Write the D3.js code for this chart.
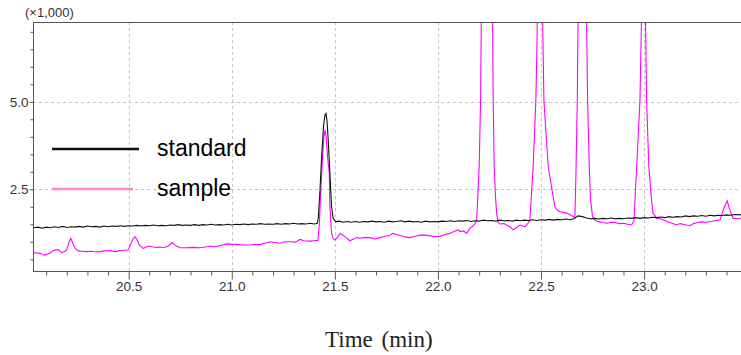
<!DOCTYPE html>
<html>
<head>
<meta charset="utf-8">
<script src="https://cdn.jsdelivr.net/npm/d3@7"></script>
<style>
  html, body { margin: 0; padding: 0; background: #fff; }
  svg { display: block; }
</style>
</head>
<body>
<svg id="chart" width="741" height="355"></svg>
<script>
// Chromatogram traces: [retention time (min), signal (×1,000)]
const standardSignal = [
  [20.036,1.40],[20.06,1.42],[20.08,1.39],[20.10,1.42],[20.12,1.40],[20.14,1.43],[20.16,1.41],
  [20.18,1.44],[20.20,1.41],[20.22,1.43],[20.24,1.42],[20.26,1.44],[20.28,1.42],[20.30,1.45],
  [20.32,1.43],[20.34,1.44],[20.36,1.42],[20.38,1.45],[20.40,1.43],[20.42,1.45],[20.44,1.44],
  [20.46,1.46],[20.48,1.44],[20.50,1.46],[20.52,1.45],[20.54,1.47],[20.56,1.45],[20.58,1.47],
  [20.60,1.46],[20.62,1.48],[20.64,1.46],[20.66,1.47],[20.68,1.46],[20.70,1.48],[20.72,1.47],
  [20.74,1.49],[20.76,1.47],[20.78,1.48],[20.80,1.47],[20.82,1.49],[20.84,1.47],[20.86,1.49],
  [20.88,1.48],[20.90,1.50],[20.92,1.48],[20.94,1.49],[20.96,1.48],[20.98,1.50],[21.00,1.48],
  [21.02,1.50],[21.04,1.49],[21.06,1.51],[21.08,1.49],[21.10,1.51],[21.12,1.50],[21.14,1.52],
  [21.16,1.50],[21.18,1.51],[21.20,1.50],[21.22,1.52],[21.24,1.50],[21.26,1.52],[21.28,1.51],
  [21.30,1.53],[21.32,1.51],[21.34,1.52],[21.36,1.51],[21.38,1.53],[21.40,1.51],[21.415,1.53],
  [21.42,1.70],[21.428,2.48],[21.436,3.43],[21.445,4.30],[21.452,4.62],[21.457,4.67],[21.462,4.45],
  [21.468,3.90],[21.476,2.97],[21.484,2.00],[21.492,1.67],[21.505,1.57],[21.52,1.59],[21.54,1.56],
  [21.56,1.58],[21.58,1.56],[21.60,1.58],[21.62,1.56],[21.64,1.58],[21.66,1.57],[21.68,1.59],
  [21.70,1.57],[21.72,1.58],[21.74,1.56],[21.76,1.59],[21.78,1.57],[21.80,1.58],[21.82,1.60],
  [21.84,1.57],[21.86,1.59],[21.88,1.57],[21.90,1.58],[21.92,1.56],[21.94,1.59],[21.96,1.57],
  [21.98,1.58],[22.00,1.57],[22.02,1.59],[22.04,1.58],[22.06,1.60],[22.08,1.58],[22.10,1.60],
  [22.12,1.59],[22.14,1.61],[22.16,1.58],[22.18,1.60],[22.20,1.59],[22.22,1.62],[22.24,1.60],
  [22.26,1.61],[22.28,1.59],[22.30,1.62],[22.32,1.60],[22.34,1.61],[22.36,1.59],[22.38,1.62],
  [22.40,1.60],[22.42,1.62],[22.44,1.61],[22.46,1.63],[22.48,1.61],[22.50,1.63],[22.52,1.62],
  [22.54,1.64],[22.56,1.62],[22.58,1.64],[22.60,1.63],[22.62,1.65],[22.64,1.63],[22.66,1.66],
  [22.68,1.74],[22.70,1.72],[22.72,1.68],[22.74,1.66],[22.76,1.67],[22.78,1.65],[22.80,1.67],
  [22.82,1.66],[22.84,1.68],[22.86,1.66],[22.88,1.67],[22.90,1.66],[22.92,1.68],[22.94,1.67],
  [22.96,1.69],[22.98,1.67],[23.00,1.69],[23.02,1.68],[23.04,1.70],[23.06,1.69],[23.08,1.71],
  [23.10,1.69],[23.12,1.72],[23.14,1.70],[23.16,1.72],[23.18,1.71],[23.20,1.74],[23.22,1.72],
  [23.24,1.74],[23.26,1.73],[23.28,1.75],[23.30,1.73],[23.32,1.76],[23.34,1.74],[23.36,1.76],
  [23.38,1.75],[23.40,1.77],[23.42,1.76],[23.44,1.78],[23.47,1.77]
];

const sampleSignal = [
  [20.036,0.69],[20.055,0.68],[20.070,0.67],[20.082,0.64],[20.094,0.62],[20.106,0.65],[20.118,0.67],
  [20.134,0.75],[20.146,0.77],[20.159,0.77],[20.175,0.69],[20.190,0.72],[20.199,0.77],[20.210,0.98],
  [20.219,1.10],[20.230,0.95],[20.240,0.81],[20.256,0.74],[20.276,0.73],[20.296,0.72],[20.32,0.73],
  [20.34,0.71],[20.361,0.72],[20.385,0.74],[20.410,0.75],[20.434,0.72],[20.45,0.74],[20.466,0.75],
  [20.498,0.77],[20.515,1.00],[20.523,1.10],[20.531,1.15],[20.541,1.05],[20.551,0.91],[20.571,0.81],
  [20.587,0.86],[20.603,0.88],[20.62,0.85],[20.636,0.84],[20.652,0.85],[20.668,0.83],[20.692,0.88],
  [20.702,0.93],[20.711,0.98],[20.722,0.92],[20.733,0.88],[20.749,0.83],[20.781,0.83],[20.81,0.84],
  [20.846,0.83],[20.878,0.86],[20.894,0.88],[20.91,0.86],[20.927,0.87],[20.95,0.90],[20.975,0.94],
  [21.007,0.93],[21.03,0.92],[21.056,0.91],[21.088,0.91],[21.11,0.92],[21.137,0.92],[21.16,0.96],
  [21.186,1.00],[21.21,0.98],[21.234,0.96],[21.26,1.00],[21.283,1.00],[21.31,0.99],[21.331,1.07],
  [21.35,1.03],[21.379,1.02],[21.40,1.03],[21.418,1.04],[21.425,1.53],[21.432,2.48],[21.440,3.40],
  [21.447,4.00],[21.452,4.19],[21.458,4.00],[21.465,3.40],[21.473,2.97],[21.476,2.00],[21.484,1.25],
  [21.490,1.10],[21.500,1.05],[21.512,1.12],[21.525,1.24],[21.54,1.19],[21.555,1.12],[21.573,1.03],
  [21.59,1.08],[21.605,1.12],[21.622,1.10],[21.64,1.12],[21.67,1.12],[21.695,1.08],[21.719,1.12],
  [21.74,1.15],[21.767,1.19],[21.78,1.24],[21.80,1.21],[21.816,1.19],[21.84,1.14],[21.864,1.12],
  [21.89,1.16],[21.913,1.19],[21.94,1.19],[21.961,1.17],[21.985,1.15],[22.010,1.15],[22.03,1.20],
  [22.058,1.24],[22.08,1.30],[22.10,1.34],[22.107,1.29],[22.125,1.31],[22.139,1.24],[22.155,1.39],
  [22.17,1.45],[22.183,1.55],[22.188,1.62],[22.200,3.15],[22.207,5.05],[22.212,8.5],[22.22,13.0],
  [22.24,14.0],[22.258,11.0],[22.265,7.28],[22.268,5.05],[22.273,3.15],[22.279,2.30],[22.285,1.80],
  [22.292,1.55],[22.301,1.51],[22.32,1.52],[22.349,1.43],[22.365,1.34],[22.38,1.40],[22.398,1.48],
  [22.41,1.45],[22.422,1.43],[22.432,1.50],[22.440,1.55],[22.446,1.62],[22.462,3.15],[22.475,5.05],
  [22.480,6.5],[22.49,11.0],[22.50,12.0],[22.505,9.0],[22.508,7.28],[22.514,5.05],[22.524,4.10],
  [22.535,3.15],[22.551,2.57],[22.567,2.00],[22.58,1.90],[22.592,1.86],[22.61,1.84],[22.624,1.82],
  [22.64,1.78],[22.656,1.72],[22.664,1.70],[22.669,2.80],[22.676,5.05],[22.680,7.5],[22.70,13.0],
  [22.718,9.0],[22.721,7.28],[22.726,5.05],[22.734,3.15],[22.740,2.19],[22.750,1.72],[22.765,1.60],
  [22.786,1.57],[22.80,1.55],[22.82,1.53],[22.84,1.56],[22.86,1.55],[22.88,1.52],[22.90,1.53],
  [22.92,1.50],[22.94,1.48],[22.951,1.62],[22.964,3.15],[22.980,5.05],[22.988,7.5],[23.00,12.0],
  [23.005,9.0],[23.007,7.28],[23.012,5.05],[23.023,3.15],[23.036,2.19],[23.043,1.82],[23.062,1.67],
  [23.077,1.66],[23.095,1.62],[23.111,1.58],[23.135,1.53],[23.159,1.48],[23.174,1.52],[23.19,1.50],
  [23.205,1.48],[23.222,1.46],[23.24,1.52],[23.26,1.55],[23.28,1.57],[23.30,1.56],[23.32,1.58],
  [23.345,1.60],[23.368,1.62],[23.376,1.77],[23.39,2.00],[23.403,2.17],[23.414,1.95],[23.424,1.77],
  [23.432,1.67],[23.45,1.66],[23.47,1.68]
];

const xMajorTicks = [20.5, 21.0, 21.5, 22.0, 22.5, 23.0];
const xMinorTicks = [20.1,20.2,20.3,20.4,20.6,20.7,20.8,20.9,21.1,21.2,21.3,21.4,21.6,21.7,21.8,21.9,
                     22.1,22.2,22.3,22.4,22.6,22.7,22.8,22.9,23.1,23.2,23.3,23.4];
const yMajorTicks = [2.5, 5.0];
const yMinorTicks = [0.5,1.0,1.5,2.0,3.0,3.5,4.0,4.5,5.5,6.0,6.5,7.0];

const seriesNames = ["standard", "sample"];
const seriesColors = ["#111111", "#ff00ff"];
const legendColors = ["#111111", "#ff88cc"];

const yUnitLabel = "(×1,000)";
const xTitle = "Time (min)";

const svg = d3.select("#chart");
const plot = { left: 33, right: 741, top: 22, bottom: 271 };

const x = d3.scaleLinear().domain([20.036, 23.47]).range([plot.left, plot.right]);
const y = d3.scaleLinear().domain([0.166, 7.28]).range([plot.bottom, plot.top]);

svg.append("defs").append("clipPath").attr("id", "plot-clip")
  .append("rect")
  .attr("x", plot.left).attr("y", plot.top)
  .attr("width", plot.right - plot.left).attr("height", plot.bottom - plot.top);

// dashed grid at major ticks
const grid = svg.append("g").attr("stroke", "#c4c4c4").attr("stroke-dasharray", "3,3").attr("stroke-width", 1);
grid.selectAll("line.gx").data(xMajorTicks).join("line")
  .attr("x1", d => Math.round(x(d)) + 0.5).attr("x2", d => Math.round(x(d)) + 0.5)
  .attr("y1", plot.top).attr("y2", plot.bottom);
grid.selectAll("line.gy").data(yMajorTicks).join("line")
  .attr("x1", plot.left).attr("x2", plot.right)
  .attr("y1", d => Math.round(y(d)) + 0.5).attr("y2", d => Math.round(y(d)) + 0.5);

// traces
const line = d3.line().x(d => x(d[0])).y(d => y(d[1]));
const traces = svg.append("g").attr("clip-path", "url(#plot-clip)").attr("fill", "none");
traces.append("path").datum(sampleSignal)
  .attr("d", line).attr("stroke", seriesColors[1]).attr("stroke-width", 1.1);
traces.append("path").datum(standardSignal)
  .attr("d", line).attr("stroke", seriesColors[0]).attr("stroke-width", 1.1);

// frame
const frameColor = "#555";
svg.append("line").attr("x1", plot.left).attr("x2", plot.right)
  .attr("y1", plot.top + 0.5).attr("y2", plot.top + 0.5).attr("stroke", frameColor);

// axes
const fontSans = "'Liberation Sans', Arial, sans-serif";
const xAxisMajor = d3.axisBottom(x).tickValues(xMajorTicks).tickFormat(d3.format(".1f")).tickSize(8).tickPadding(2);
const xAxisMinor = d3.axisBottom(x).tickValues(xMinorTicks).tickFormat("").tickSize(4);
const yAxisMajor = d3.axisLeft(y).tickValues(yMajorTicks).tickFormat(d3.format(".1f")).tickSize(4).tickPadding(1);
const yAxisMinor = d3.axisLeft(y).tickValues(yMinorTicks).tickFormat("").tickSize(3);

function styleAxis(g) {
  g.select(".domain").attr("stroke", frameColor);
  g.selectAll(".tick line").attr("stroke", frameColor);
  g.selectAll(".tick text").attr("fill", "#333").style("font-family", fontSans).style("font-size", "13.5px");
}

svg.append("g").attr("transform", `translate(0,${plot.bottom + 0.5})`).call(xAxisMinor).call(styleAxis)
  .select(".domain").attr("d", `M${plot.left},0H${plot.right}`);
svg.append("g").attr("transform", `translate(0,${plot.bottom + 0.5})`).call(xAxisMajor).call(styleAxis)
  .select(".domain").remove();
svg.append("g").attr("transform", `translate(${plot.left + 0.5},0)`).call(yAxisMinor).call(styleAxis)
  .select(".domain").attr("d", `M0,${plot.top}V${plot.bottom}`);
svg.append("g").attr("transform", `translate(${plot.left + 0.5},0)`).call(yAxisMajor).call(styleAxis)
  .select(".domain").remove();

svg.append("text").attr("x", 25).attr("y", 17)
  .attr("fill", "#333").style("font-family", fontSans).style("font-size", "13px")
  .text(yUnitLabel);

svg.append("text").attr("x", 325).attr("y", 347)
  .attr("fill", "#222").style("font-family", "'Liberation Serif', 'Times New Roman', serif")
  .style("font-size", "23px").style("word-spacing", "3px")
  .text(xTitle);

// legend
const legendRows = [149, 189];
const legend = svg.append("g");
seriesNames.forEach((name, i) => {
  legend.append("line")
    .attr("x1", 52).attr("x2", i === 0 ? 139 : 133)
    .attr("y1", legendRows[i]).attr("y2", legendRows[i])
    .attr("stroke", legendColors[i]).attr("stroke-width", 2.4);
  legend.append("text").attr("x", 157).attr("y", legendRows[i] + 7)
    .attr("fill", "#000").style("font-family", fontSans).style("font-size", "23px")
    .text(name);
});
</script>
</body>
</html>
